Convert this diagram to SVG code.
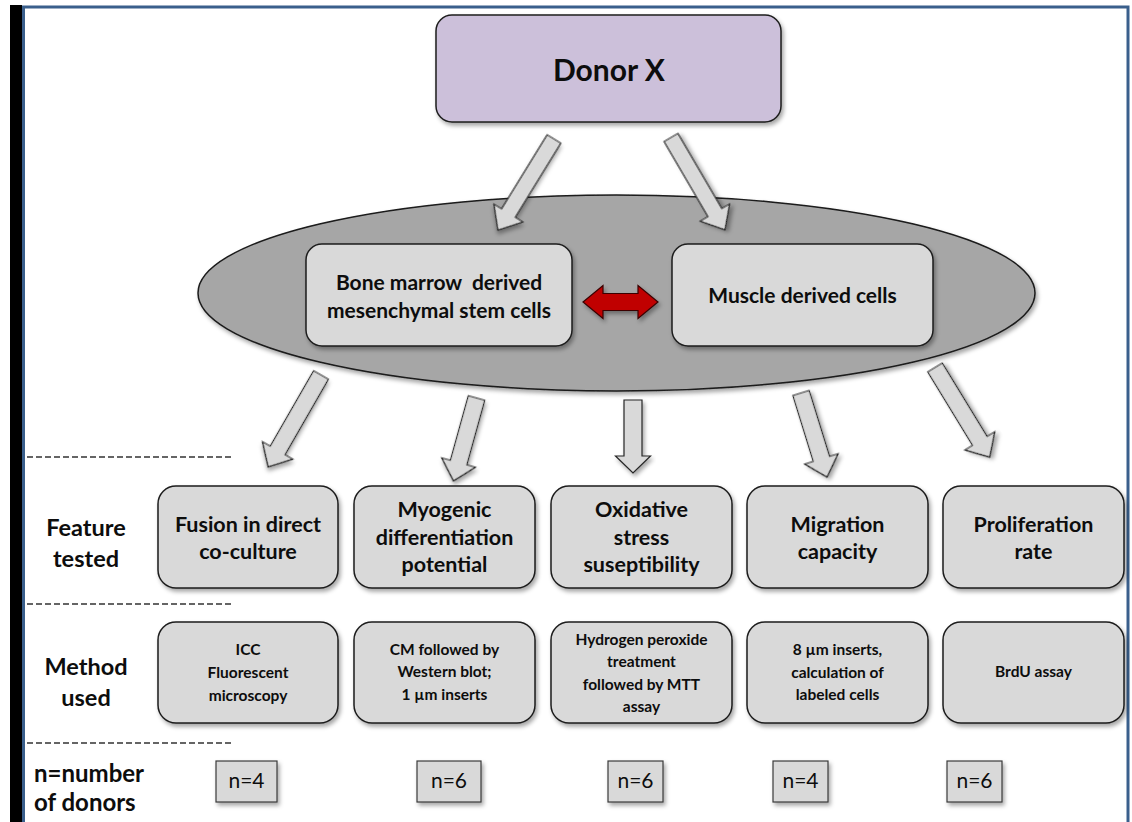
<svg xmlns="http://www.w3.org/2000/svg" width="1132" height="822" viewBox="0 0 1132 822">
<defs>
<filter id="sh" x="-10%" y="-10%" width="125%" height="130%">
<feDropShadow dx="2" dy="3" stdDeviation="2" flood-color="#000" flood-opacity="0.35"/>
</filter>
</defs>
<style>
.box{fill:#d9d9d9;stroke:#1e1e1e;stroke-width:1.5;filter:url(#sh)}
.nbox{fill:#d9d9d9;stroke:#3a3a3a;stroke-width:1.2;filter:url(#sh)}
.arr{fill:#d9d9d9;stroke:#262626;stroke-width:1.2;filter:url(#sh)}
.t{font-family:Lato,"Open Sans",sans-serif;font-weight:700;text-anchor:middle;fill:#0d0d0d}
.ft{font-size:21.5px}
.mt{font-size:15.5px}
.lab{font-family:Lato,"Open Sans",sans-serif;font-weight:700;font-size:23.5px;fill:#0d0d0d}
.nt{font-family:Lato,"Open Sans",sans-serif;font-weight:400;font-size:21px;text-anchor:middle;fill:#0d0d0d}
.dash{stroke:#333;stroke-width:1.3;stroke-dasharray:6 3;fill:none}
</style>
<rect x="0" y="0" width="1132" height="822" fill="#fff"/>
<rect x="10" y="5" width="12" height="817" fill="#000"/>
<rect x="23.5" y="7" width="1104.5" height="820" fill="none" stroke="#3a5f8c" stroke-width="3"/>

<g id="row-guides">
<line class="dash" x1="27" y1="457" x2="232" y2="457"/>
<line class="dash" x1="27" y1="604" x2="232" y2="604"/>
<line class="dash" x1="27" y1="743" x2="232" y2="743"/>
</g>

<g id="cell-population">
<ellipse cx="616.5" cy="293" rx="418.5" ry="98" fill="#a6a6a6" stroke="#1a1a1a" stroke-width="1.5" filter="url(#sh)"/>
</g>

<g id="donor">
<rect class="box" x="436" y="15" width="345" height="107" rx="16" style="fill:#ccc0da"/>
<text class="t" x="609" y="81" style="font-size:30px">Donor X</text>
</g>

<g id="bmsc">
<rect class="box" x="306" y="244" width="266" height="102" rx="16"/>
<text class="t" x="439" y="290" style="font-size:21px;white-space:pre">Bone marrow  derived</text>
<text class="t" x="439" y="318" style="font-size:21px">mesenchymal stem cells</text>
</g>

<g id="mdc">
<rect class="box" x="672" y="244" width="261" height="102" rx="16"/>
<text class="t" x="802.5" y="303" style="font-size:21px">Muscle derived cells</text>
</g>

<g id="connectors">
<path class="arr" transform="translate(554,139) rotate(31.6)" d="M-8,0 H8 V87 H17 L0,107 L-17,87 H-8 Z"/>
<path class="arr" transform="translate(671,137.5) rotate(-30.3)" d="M-8,0 H8 V87 H17 L0,107 L-17,87 H-8 Z"/>
<path d="M583,302 L603,285.5 L603,293.5 L638,293.5 L638,285.5 L658,302 L638,318.5 L638,310.5 L603,310.5 L603,318.5 Z" fill="#c00000" stroke="#3a0000" stroke-width="1.2" filter="url(#sh)"/>
<path class="arr" transform="translate(321,375) rotate(29.9)" d="M-8.5,0 H8.5 V87 H17.5 L0,106 L-17.5,87 H-8.5 Z"/>
<path class="arr" transform="translate(476.5,398) rotate(15.5)" d="M-8.5,0 H8.5 V67 H17.5 L0,86 L-17.5,67 H-8.5 Z"/>
<path class="arr" transform="translate(633,400)" d="M-9,0 H9 V56 H17.5 L0,73 L-17.5,56 H-9 Z"/>
<path class="arr" transform="translate(801,393) rotate(-17.2)" d="M-8.5,0 H8.5 V69 H17.5 L0,88 L-17.5,69 H-8.5 Z"/>
<path class="arr" transform="translate(935,367.5) rotate(-31.4)" d="M-8.5,0 H8.5 V86 H17.5 L0,105 L-17.5,86 H-8.5 Z"/>
</g>

<g id="row-labels">
<text class="lab" x="86" y="536" text-anchor="middle">Feature</text>
<text class="lab" x="86" y="567" text-anchor="middle">tested</text>
<text class="lab" x="86" y="675" text-anchor="middle">Method</text>
<text class="lab" x="86" y="706" text-anchor="middle">used</text>
<text class="lab" x="34" y="782" style="font-size:24px">n=number</text>
<text class="lab" x="34" y="811" style="font-size:24px">of donors</text>
</g>

<g id="feature-fusion">
<rect class="box" x="158" y="486" width="180" height="102" rx="18"/>
<text class="t ft" x="248" y="532">Fusion in direct</text>
<text class="t ft" x="248" y="559">co-culture</text>
</g>
<g id="feature-myogenic">
<rect class="box" x="354" y="486" width="181" height="102" rx="18"/>
<text class="t ft" x="444.5" y="517">Myogenic</text>
<text class="t ft" x="444.5" y="545">differentiation</text>
<text class="t ft" x="444.5" y="572">potential</text>
</g>
<g id="feature-oxidative">
<rect class="box" x="551" y="486" width="181" height="102" rx="18"/>
<text class="t ft" x="641.5" y="517">Oxidative</text>
<text class="t ft" x="641.5" y="545">stress</text>
<text class="t ft" x="641.5" y="572">suseptibility</text>
</g>
<g id="feature-migration">
<rect class="box" x="747" y="486" width="181" height="102" rx="18"/>
<text class="t ft" x="837.5" y="532">Migration</text>
<text class="t ft" x="837.5" y="559">capacity</text>
</g>
<g id="feature-proliferation">
<rect class="box" x="943" y="486" width="181" height="102" rx="18"/>
<text class="t ft" x="1033.5" y="532">Proliferation</text>
<text class="t ft" x="1033.5" y="559">rate</text>
</g>

<g id="method-icc">
<rect class="box" x="158" y="622" width="180" height="101" rx="18"/>
<text class="t mt" x="248" y="655">ICC</text>
<text class="t mt" x="248" y="678">Fluorescent</text>
<text class="t mt" x="248" y="701">microscopy</text>
</g>
<g id="method-cm">
<rect class="box" x="354" y="622" width="181" height="101" rx="18"/>
<text class="t mt" x="444.5" y="655">CM followed by</text>
<text class="t mt" x="444.5" y="677">Western blot;</text>
<text class="t mt" x="444.5" y="700">1 µm inserts</text>
</g>
<g id="method-h2o2">
<rect class="box" x="551" y="622" width="181" height="101" rx="18"/>
<text class="t mt" x="641.5" y="645">Hydrogen peroxide</text>
<text class="t mt" x="641.5" y="667">treatment</text>
<text class="t mt" x="641.5" y="690">followed by MTT</text>
<text class="t mt" x="641.5" y="712">assay</text>
</g>
<g id="method-inserts">
<rect class="box" x="747" y="622" width="181" height="101" rx="18"/>
<text class="t mt" x="837.5" y="655">8 µm inserts,</text>
<text class="t mt" x="837.5" y="678">calculation of</text>
<text class="t mt" x="837.5" y="700">labeled cells</text>
</g>
<g id="method-brdu">
<rect class="box" x="943" y="622" width="181" height="101" rx="18"/>
<text class="t mt" x="1033.5" y="677">BrdU assay</text>
</g>

<g id="n-fusion">
<rect class="nbox" x="216" y="761" width="61" height="41"/>
<text class="nt" x="246.5" y="788">n=4</text>
</g>
<g id="n-myogenic">
<rect class="nbox" x="417" y="761" width="64" height="41"/>
<text class="nt" x="449" y="788">n=6</text>
</g>
<g id="n-oxidative">
<rect class="nbox" x="608" y="761" width="55" height="41"/>
<text class="nt" x="635.5" y="788">n=6</text>
</g>
<g id="n-migration">
<rect class="nbox" x="773" y="761" width="55" height="41"/>
<text class="nt" x="800.5" y="788">n=4</text>
</g>
<g id="n-proliferation">
<rect class="nbox" x="947" y="761" width="55" height="41"/>
<text class="nt" x="974.5" y="788">n=6</text>
</g>
</svg>
